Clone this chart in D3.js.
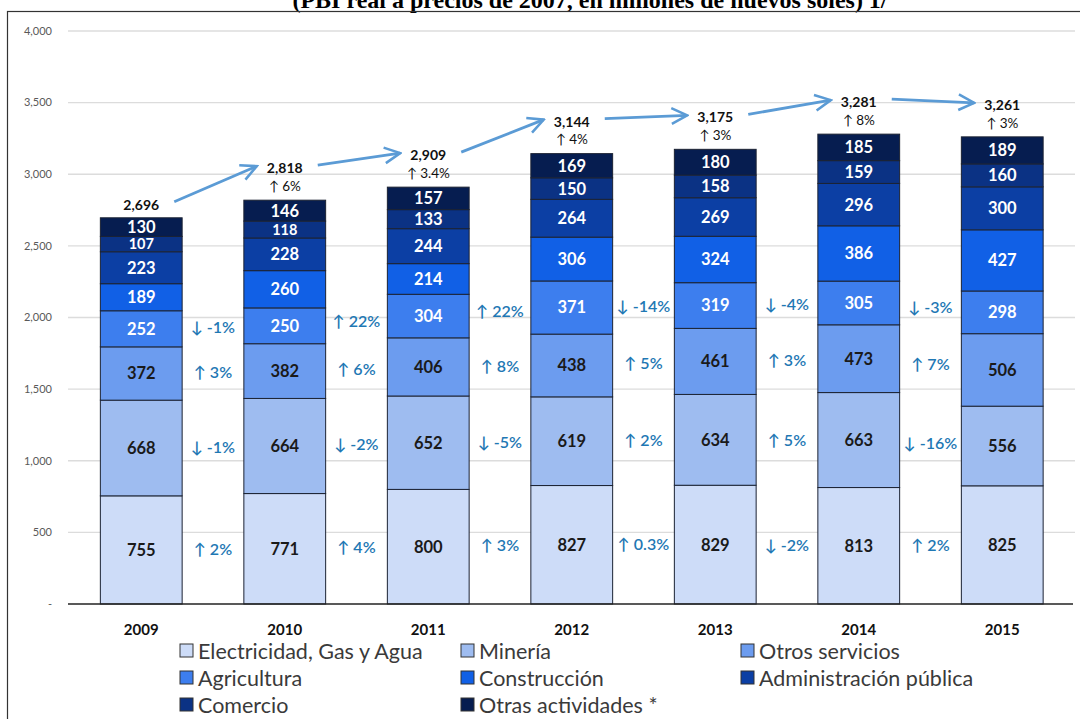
<!DOCTYPE html>
<html><head><meta charset="utf-8">
<script src="https://cdn.jsdelivr.net/npm/d3@7"></script>
<style>body{margin:0;background:#fff}svg{display:block}</style>
</head><body>
<svg id="c" width="1080" height="719"></svg>
<script>
const years = ["2009","2010","2011","2012","2013","2014","2015"];
const seriesNames = ["Electricidad, Gas y Agua","Minería","Otros servicios","Agricultura","Construcción","Administración pública","Comercio","Otras actividades *"];
const electricidad = [755,771,800,827,829,813,825];
const mineria = [668,664,652,619,634,663,556];
const otrosServicios = [372,382,406,438,461,473,506];
const agricultura = [252,250,304,371,319,305,298];
const construccion = [189,260,214,306,324,386,427];
const administracion = [223,228,244,264,269,296,300];
const comercio = [107,118,133,150,158,159,160];
const otrasActividades = [130,146,157,169,180,185,189];
const totals = ["2,696","2,818","2,909","3,144","3,175","3,281","3,261"];
const totalGrowth = ["","↑ 6%","↑ 3.4%","↑ 4%","↑ 3%","↑ 8%","↑ 3%"];
// change labels between consecutive years for the first four series
const chElectricidad = ["↑ 2%","↑ 4%","↑ 3%","↑ 0.3%","↓ -2%","↑ 2%"];
const chMineria = ["↓ -1%","↓ -2%","↓ -5%","↑ 2%","↑ 5%","↓ -16%"];
const chOtros = ["↑ 3%","↑ 6%","↑ 8%","↑ 5%","↑ 3%","↑ 7%"];
const chAgricultura = ["↓ -1%","↑ 22%","↑ 22%","↓ -14%","↓ -4%","↓ -3%"];
const yTicks = [0,500,1000,1500,2000,2500,3000,3500,4000];
const colors = ["#CDDCF8","#9EBCF0","#6C9CEF","#3D7EEE","#1160E6","#0C3FA4","#0B3284","#061D50"];
const labelColors = ["#1a1a1a","#1a1a1a","#1a1a1a","#fff","#fff","#fff","#fff","#fff"];

const seriesVals = [electricidad,mineria,otrosServicios,agricultura,construccion,administracion,comercio,otrasActividades];
const changeLabels = [chElectricidad,chMineria,chOtros,chAgricultura];

const svg = d3.select("#c");
const font = "Lato, 'Open Sans', sans-serif";

// title (cut off at top, as in the original)
svg.append("text").attr("x",590).attr("y",8).attr("text-anchor","middle")
  .attr("font-family","'Liberation Serif', 'Times New Roman', serif").attr("font-weight","bold")
  .attr("font-size",24).attr("fill","#000")
  .text("(PBI real a precios de 2007, en millones de nuevos soles) 1/");
// frame
svg.append("rect").attr("x",7.5).attr("y",11.5).attr("width",1100).attr("height",720)
  .attr("fill","none").attr("stroke","#333").attr("stroke-width",1.2);

const x = d3.scaleBand().domain(years).range([69.5,1074]).paddingInner(0.43).paddingOuter(0.215);
const y = d3.scaleLinear().domain([0,4000]).range([604,31]);

// grid
const g = svg.append("g");
g.selectAll("line.grid").data(yTicks.filter(d=>d>0)).join("line")
  .attr("x1",68).attr("x2",1075).attr("y1",d=>y(d)).attr("y2",d=>y(d))
  .attr("stroke","#dcdcdc").attr("stroke-width",1.3);
// y axis labels
g.selectAll("text.yl").data(yTicks).join("text")
  .attr("x",52).attr("y",d=>y(d)).attr("dy","0.35em").attr("text-anchor","end")
  .attr("font-family",font).attr("font-size",11).attr("fill","#595959")
  .text(d=>d===0?"-":d3.format(",")(d));

// stacks
const table = years.map((yr,i)=>{const o={year:yr}; seriesNames.forEach((s,k)=>o[s]=seriesVals[k][i]); return o;});
const stacked = d3.stack().keys(seriesNames)(table);

stacked.forEach((layer,k)=>{
  const lg = svg.append("g");
  lg.selectAll("rect").data(layer).join("rect")
    .attr("x",d=>x(d.data.year)).attr("width",x.bandwidth())
    .attr("y",d=>y(d[1])).attr("height",d=>y(d[0])-y(d[1]))
    .attr("fill",colors[k]).attr("stroke","#1c2333").attr("stroke-width",1);
  lg.selectAll("text").data(layer).join("text")
    .attr("x",d=>x(d.data.year)+x.bandwidth()/2).attr("y",d=>(y(d[0])+y(d[1]))/2)
    .attr("dy","0.36em").attr("text-anchor","middle")
    .attr("font-family",font).attr("font-weight","bold")
    .attr("font-size",d=>(y(d[0])-y(d[1]))<17 ? 14.5 : 16.5)
    .attr("fill",labelColors[k]).text(d=>d.data[seriesNames[k]]);
});

// baseline
svg.append("line").attr("x1",68).attr("x2",1073).attr("y1",y(0)).attr("y2",y(0))
  .attr("stroke","#222").attr("stroke-width",1.3);

// year labels
svg.selectAll("text.year").data(years).join("text")
  .attr("x",d=>x(d)+x.bandwidth()/2).attr("y",630).attr("dy","0.35em").attr("text-anchor","middle")
  .attr("font-family",font).attr("font-weight","bold").attr("font-size",15).attr("fill","#111").text(d=>d);

// change labels between bars
changeLabels.forEach((arr,k)=>{
  arr.forEach((lab,i)=>{
    const a = stacked[k][i], b = stacked[k][i+1];
    const cy = ((y(a[0])+y(a[1]))/2 + (y(b[0])+y(b[1]))/2)/2;
    const cx = (x(years[i])+x.bandwidth() + x(years[i+1]))/2;
    svg.append("text").attr("x",cx).attr("y",cy).attr("dy","0.35em").attr("text-anchor","middle")
      .attr("font-family",font).attr("font-size",16).attr("font-weight",600).attr("fill","#1F78B4").text(lab);
  });
});

// totals
const topLayer = stacked[stacked.length-1];
const labelPos = years.map((yr,i)=>{
  const bt = y(topLayer[i][1]);
  return {cx:x(yr)+x.bandwidth()/2, ly: i===0 ? bt-13 : bt-32, py: bt-14};
});
years.forEach((yr,i)=>{
  const p = labelPos[i];
  svg.append("text").attr("x",p.cx).attr("y",p.ly).attr("dy","0.35em").attr("text-anchor","middle")
    .attr("font-family",font).attr("font-weight","bold").attr("font-size",14).attr("fill","#111").text(totals[i]);
  if(totalGrowth[i]) svg.append("text").attr("x",p.cx).attr("y",p.py).attr("dy","0.35em").attr("text-anchor","middle")
    .attr("font-family",font).attr("font-size",13.5).attr("fill","#111").text(totalGrowth[i]);
});

// arrows
svg.append("defs").append("marker").attr("id","ah").attr("viewBox","0 0 10 10")
  .attr("refX",9).attr("refY",5).attr("markerWidth",7).attr("markerHeight",7).attr("orient","auto")
  .attr("markerUnits","strokeWidth")
  .append("path").attr("d","M1,1 L9,5 L1,9").attr("fill","none").attr("stroke","#5B9BD5")
  .attr("stroke-width",1.3).attr("stroke-linejoin","miter");
for(let i=0;i<years.length-1;i++){
  const a = labelPos[i], b = labelPos[i+1];
  svg.append("line").attr("x1",a.cx+33).attr("y1",a.ly-3).attr("x2",b.cx-28).attr("y2",b.ly-2)
    .attr("stroke","#5B9BD5").attr("stroke-width",2.8).attr("marker-end","url(#ah)");
}

// legend
const legX = [180,461,741];
const legY = [650,677,704];
seriesNames.forEach((s,k)=>{
  const col = k%3, row = Math.floor(k/3);
  const lgg = svg.append("g").attr("transform",`translate(${legX[col]},${legY[row]})`);
  lgg.append("rect").attr("x",0).attr("y",-6).attr("width",13).attr("height",13)
    .attr("fill",colors[k]).attr("stroke","#333").attr("stroke-width",1);
  lgg.append("text").attr("x",18).attr("y",1).attr("dy","0.35em")
    .attr("font-family",font).attr("font-size",21.5).attr("fill","#3a3a3a").text(s);
});
</script>
</body></html>
